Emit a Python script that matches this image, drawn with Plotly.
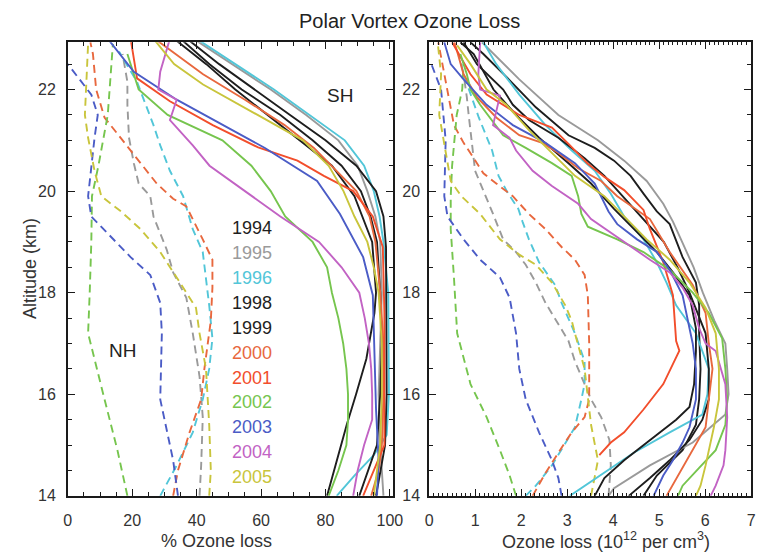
import plotly.graph_objects as go

W, H = 768, 557

years = ["1994", "1995", "1996", "1998", "1999", "2000", "2001", "2002", "2003", "2004", "2005"]
year_colors = ["#1e1e1e", "#9a9a9a", "#52c6d8", "#1e1e1e", "#1e1e1e", "#e8683e",
               "#f24e2c", "#76c54e", "#4b5cc6", "#c263c4", "#c9c53c"]
col = dict(zip(years, year_colors))

# ---------------- Left panel: % ozone loss ----------------
# Southern Hemisphere (solid)
pct_sh_1994_alt = [14, 14.7, 15.4, 16, 16.7, 17.6, 18, 19, 19.9, 20.5, 21, 21.5, 22, 22.5, 23]
pct_sh_1994 = [80.5, 83.5, 86.6, 89.5, 92.7, 95.2, 95.7, 94.5, 89, 82, 72, 62, 52, 43, 33]
pct_sh_1995_alt = [14, 15, 16, 17, 18, 19, 19.5, 20, 20.5, 21, 21.5, 22, 22.5, 23]
pct_sh_1995 = [98, 97, 96.5, 97, 97.5, 97, 95.5, 93, 90, 84, 74, 63, 51, 39]
pct_sh_1996_alt = [14, 14.4, 14.8, 15.2, 16, 17, 18, 19, 19.5, 20, 20.5, 21, 21.5, 22, 22.5, 23]
pct_sh_1996 = [83.5, 89, 95, 99, 99.7, 99.7, 99.5, 98, 96.8, 95, 92, 86, 75, 64, 52, 40]
pct_sh_1998_alt = [14, 15, 16, 17, 18, 18.9, 19.5, 20, 20.5, 21, 21.5, 22, 22.5, 23]
pct_sh_1998 = [95.7, 98.5, 99, 99, 99, 98.8, 98, 95.7, 89.6, 80, 69, 58, 47, 37]
pct_sh_1999_alt = [14, 15, 16, 17, 18, 19, 19.5, 20, 20.5, 21, 21.5, 22, 22.5, 23]
pct_sh_1999 = [90.5, 96, 97, 97.5, 97, 96, 94, 91, 85, 76, 66, 54, 44, 35]
pct_sh_2000_alt = [14, 14.5, 15, 16, 17, 18, 19, 19.5, 20, 20.4, 20.85, 21.3, 21.8, 22.3, 23]
pct_sh_2000 = [94.2, 96.5, 97.5, 98, 98, 97, 95.5, 93.7, 89.6, 83.5, 76.4, 67.3, 55, 42, 27]
pct_sh_2001_alt = [14, 14.5, 15, 16, 17, 17.6, 18.9, 19.5, 20.0, 20.3, 20.6, 20.86, 21.3, 21.77, 22.22, 23]
pct_sh_2001 = [91.7, 95, 98.3, 98.3, 98.3, 98.3, 97.8, 94.7, 88.6, 79.5, 71.3, 59.1, 45, 31.7, 21.5, 19.5]
pct_sh_2002_alt = [14, 14.5, 15, 15.5, 16, 16.5, 17, 17.5, 18, 18.5, 19, 19.5, 20, 20.5, 21, 21.5, 22, 22.5, 22.7]
pct_sh_2002 = [81, 84, 86.5, 87, 87, 86.5, 85.5, 84, 82, 80.5, 76, 67.5, 63, 57, 48, 31, 22, 19.5, 18.5]
pct_sh_2003_alt = [14, 14.7, 15.7, 17, 17.95, 18.7, 19.55, 20.2, 20.45, 20.85, 21.8, 22.35, 23]
pct_sh_2003 = [96, 96.5, 95.7, 95.2, 94.7, 91.7, 84.5, 77.4, 71.3, 61.2, 33.8, 20.5, 12.4]
pct_sh_2004_alt = [14, 14.5, 15, 15.5, 16, 16.5, 17, 17.5, 18, 18.5, 19, 19.5, 20, 20.5, 20.9, 21.4, 21.8, 22.0, 22.35, 23]
pct_sh_2004 = [88.6, 90, 92, 94.5, 94.5, 94.2, 93.5, 92.2, 90.5, 85, 78, 66, 55, 44, 38.8, 31.7, 33.8, 28.1, 28.7, 31.7]
pct_sh_2005_alt = [14, 15, 16, 17, 18, 18.5, 19, 19.5, 20, 20.5, 21, 21.5, 22.1, 22.5, 23]
pct_sh_2005 = [95, 97, 97.5, 97.5, 96.5, 95, 93, 89, 85.6, 81, 73, 59, 42, 33, 26.6]

# Northern Hemisphere (dashed)
pct_nh_1995_alt = [14, 14.6, 15.55, 16.35, 17.2, 17.9, 18.4, 18.85, 19.5, 19.9, 20.15, 20.55, 21.05, 21.7, 22.15, 22.7]
pct_nh_1995 = [40.9, 41.4, 41.9, 40.9, 38.8, 36.8, 32.7, 30.7, 26.6, 25.6, 22, 20.5, 19, 18.5, 18.5, 17]
pct_nh_1996_alt = [14, 14.6, 15.25, 15.9, 16.5, 17.1, 17.75, 18.3, 18.8, 19.25, 19.9, 20.4, 20.9, 21.3, 21.7, 22.15, 22.75]
pct_nh_1996 = [28.7, 33.8, 38.8, 41.9, 43.9, 44.9, 43.9, 42.9, 41.9, 38.8, 35.8, 31.7, 28.7, 26.6, 24.1, 21.5, 15.9]
pct_nh_2000_alt = [14, 14.5, 15.25, 15.9, 16.5, 17, 17.45, 18.1, 18.65, 19.05, 19.7, 19.85, 20.15, 20.55, 20.95, 21.45, 22.0, 22.7, 22.93]
pct_nh_2000 = [32.7, 34.2, 37.8, 41.4, 42.4, 43.4, 44.4, 44.9, 44.9, 41.9, 36.8, 32.7, 27.6, 22.6, 17.5, 11.4, 8.8, 7.8, 7]
pct_nh_2002_alt = [14, 14.9, 15.9, 17.2, 18, 19, 19.9, 20.5, 21.5, 22.35, 22.9]
pct_nh_2002 = [18.5, 15.4, 11.4, 6.3, 6.8, 7.3, 7.5, 9.5, 12.4, 13.4, 14]
pct_nh_2003_alt = [14, 14.7, 15.9, 17.2, 17.8, 18.35, 18.7, 19.1, 19.5, 19.9, 20.5, 21.05, 21.5, 21.9, 22.5]
pct_nh_2003 = [34.2, 32.7, 28.7, 29.2, 28.7, 25.6, 19.5, 13.4, 7.3, 6.3, 7.3, 8.3, 9.3, 7.3, 0]
pct_nh_2005_alt = [14, 14.5, 15.4, 16.5, 17.2, 17.7, 18.3, 18.8, 19.25, 19.6, 19.9, 20.4, 21.05, 21.5, 22.9]
pct_nh_2005 = [43.9, 44.4, 43.9, 42.9, 40.9, 39.8, 33.8, 28.7, 22.6, 16.5, 10.4, 8.3, 6.3, 5.3, 6.3]

# ---------------- Right panel: ozone loss (1e12 per cm3) ----------------
# Southern Hemisphere (solid)
abs_sh_1994_alt = [14, 14.4, 14.9, 15.4, 15.9, 16.5, 17.2, 17.75, 18.2, 18.7, 19.35, 19.6, 19.95, 20.3, 20.6, 20.85, 21.1, 21.65, 22.25, 22.7, 22.93]
abs_sh_1994 = [4.66, 4.95, 5.51, 5.8, 5.87, 5.9, 5.87, 5.87, 5.8, 5.51, 5.23, 4.95, 4.66, 4.38, 4.02, 3.6, 3.03, 2.32, 1.68, 1.18, 0.9]
abs_sh_1995_alt = [14, 14.15, 14.6, 15.05, 15.6, 16.0, 16.5, 17.0, 17.45, 18.0, 18.5, 19.0, 19.4, 19.75, 20.2, 20.6, 21.0, 21.5, 22.2, 22.93]
abs_sh_1995 = [3.9, 4.02, 4.8, 5.73, 6.44, 6.51, 6.48, 6.44, 6.2, 5.95, 5.75, 5.5, 5.3, 5.09, 4.73, 4.24, 3.67, 2.81, 1.96, 1.15]
abs_sh_1996_alt = [14, 14.45, 14.85, 15.25, 15.6, 16.0, 16.5, 17.2, 17.75, 18.2, 18.6, 19.05, 19.5, 19.95, 20.4, 20.8, 21.3, 21.9, 22.5, 22.93]
abs_sh_1996 = [3.06, 3.81, 4.45, 5.23, 5.94, 6.05, 6.08, 5.8, 5.37, 5.16, 4.95, 4.66, 4.24, 3.95, 3.6, 3.1, 2.53, 1.96, 1.46, 1.18]
abs_sh_1998_alt = [14, 14.35, 14.7, 15.1, 15.5, 15.9, 16.5, 17.2, 18.0, 18.5, 19.0, 19.5, 19.85, 20.3, 20.65, 21.05, 21.4, 21.7, 22.0, 22.5, 22.93]
abs_sh_1998 = [4.34, 4.8, 5.23, 5.66, 5.94, 6.08, 6.08, 6.01, 5.66, 5.4, 5.1, 4.6, 4.24, 3.81, 3.38, 2.81, 2.17, 1.82, 1.61, 1.04, 0.75]
abs_sh_1999_alt = [14, 14.35, 14.7, 15.1, 15.5, 15.75, 16.2, 16.85, 17.3, 17.95, 18.4, 18.8, 19.25, 19.65, 20.15, 20.55, 21.05, 21.5, 22.0, 22.7, 22.93]
abs_sh_1999 = [3.6, 3.81, 4.24, 4.8, 5.37, 5.66, 5.76, 5.8, 5.8, 5.66, 5.3, 4.95, 4.45, 4.02, 3.52, 3.03, 2.39, 1.89, 1.4, 0.97, 0.68]
abs_sh_2000_alt = [14, 14.45, 14.9, 15.35, 15.9, 16.5, 17.0, 17.6, 18.15, 18.8, 19.45, 19.9, 20.2, 20.45, 20.75, 20.95, 21.1, 21.45, 21.85, 22.3, 22.75, 22.93]
abs_sh_2000 = [5.16, 5.44, 5.73, 6.01, 6.08, 6.16, 6.08, 6.01, 5.73, 5.23, 4.8, 4.09, 3.74, 3.24, 2.81, 2.46, 1.96, 1.46, 1.04, 0.75, 0.61, 0.55]
abs_sh_2001_alt = [14.8, 15.05, 15.25, 15.7, 16.2, 16.86, 17.05, 17.95, 18.6, 19.25, 19.63, 20.02, 20.28, 20.54, 20.93, 21.25, 21.5, 21.7, 21.9, 22.3, 22.93]
abs_sh_2001 = [3.7, 3.95, 4.24, 4.66, 5.09, 5.44, 5.37, 5.3, 5.09, 4.8, 4.66, 4.24, 3.81, 3.45, 3.03, 2.67, 1.96, 1.61, 1.25, 0.9, 0.5]
abs_sh_2002_alt = [14, 14.2, 14.55, 14.9, 15.4, 15.9, 16.5, 17.1, 17.6, 18.0, 18.45, 18.8, 19.05, 19.3, 19.55, 19.9, 20.3, 20.55, 20.85, 21.1, 21.7, 22.0, 22.3, 22.7]
abs_sh_2002 = [5.41, 5.51, 5.87, 6.23, 6.44, 6.48, 6.44, 6.37, 6.08, 5.73, 5.23, 4.66, 4.09, 3.45, 3.31, 3.24, 3.1, 2.67, 2.1, 1.61, 1.11, 0.9, 0.82, 0.68]
abs_sh_2003_alt = [14, 14.4, 14.7, 15.05, 15.35, 15.9, 16.5, 17.0, 17.3, 17.95, 18.45, 18.8, 19.05, 19.35, 19.6, 20.15, 20.55, 20.95, 21.3, 21.7, 22.2, 22.5, 22.93]
abs_sh_2003 = [4.88, 5.09, 5.3, 5.51, 5.66, 5.8, 5.8, 5.73, 5.66, 5.51, 5.23, 4.95, 4.52, 4.09, 3.9, 3.6, 3.17, 2.53, 1.82, 1.25, 0.75, 0.47, 0.33]
abs_sh_2004_alt = [14, 14.2, 14.6, 14.9, 15.55, 16.2, 16.85, 17.0, 17.3, 17.75, 18.1, 18.4, 18.65, 19.0, 19.45, 19.75, 20.1, 20.4, 20.8, 21.05, 21.3, 21.88, 22.0, 22.3, 22.93]
abs_sh_2004 = [6.12, 6.23, 6.4, 6.44, 6.48, 6.44, 6.23, 6.01, 5.87, 5.73, 5.51, 5.23, 4.8, 4.24, 3.52, 3.24, 2.67, 2.25, 1.89, 1.75, 1.39, 1.54, 1.11, 1.07, 1.11]
abs_sh_2005_alt = [14, 14.2, 14.6, 14.9, 15.35, 15.9, 16.5, 17.2, 17.7, 18.2, 18.65, 19.05, 19.5, 19.9, 20.3, 20.75, 21.2, 21.7, 22.0, 22.5, 22.87]
abs_sh_2005 = [5.8, 5.9, 6.01, 6.08, 6.19, 6.3, 6.3, 6.23, 6.01, 5.66, 5.23, 4.73, 4.24, 3.81, 3.17, 2.67, 2.17, 1.68, 1.25, 0.9, 0.61]

# Northern Hemisphere (dashed)
abs_nh_1995_alt = [14, 14.6, 15.1, 15.55, 15.9, 16.2, 16.65, 17.05, 17.5, 17.8, 18.2, 18.55, 18.8, 19.05, 19.55, 20.0, 20.4, 21.5, 21.85, 22.3]
abs_nh_1995 = [3.9, 3.95, 3.92, 3.74, 3.52, 3.38, 3.17, 3.03, 2.74, 2.53, 2.32, 2.1, 1.89, 1.61, 1.39, 1.18, 1.0, 0.86, 0.82, 0.75]
abs_nh_1996_alt = [14, 14.2, 14.6, 15.05, 15.35, 15.9, 16.2, 16.65, 17.2, 17.8, 18.15, 18.6, 19.05, 19.4, 19.65, 19.95, 20.3, 20.8, 21.45, 22.3, 22.7]
abs_nh_1996 = [2.1, 2.32, 2.67, 2.96, 3.17, 3.31, 3.38, 3.38, 3.17, 2.88, 2.74, 2.39, 2.17, 2.03, 1.94, 1.72, 1.51, 1.37, 1.08, 0.75, 0.65]
abs_nh_2000_alt = [14, 14.45, 14.85, 15.25, 15.55, 15.9, 17.0, 17.95, 18.35, 18.65, 18.9, 19.25, 19.55, 19.9, 20.15, 20.35, 20.65, 20.95, 21.3, 22.7, 22.93]
abs_nh_2000 = [2.25, 2.53, 2.81, 3.1, 3.38, 3.48, 3.48, 3.45, 3.38, 3.17, 2.88, 2.53, 2.17, 1.82, 1.46, 1.18, 0.97, 0.75, 0.54, 0.26, 0.2]
abs_nh_2002_alt = [14, 14.4, 14.9, 15.55, 16.2, 17.2, 18.3, 19.25, 19.9, 20.5, 21, 21.5, 22, 22.5]
abs_nh_2002 = [1.89, 1.75, 1.54, 1.25, 0.9, 0.61, 0.54, 0.47, 0.47, 0.5, 0.55, 0.6, 0.72, 0.75]
abs_nh_2003_alt = [14, 14.35, 14.7, 15.25, 15.9, 16.5, 17.2, 17.9, 18.3, 18.65, 19.05, 19.5, 19.9, 21.0, 22.0, 22.5]
abs_nh_2003 = [2.88, 2.81, 2.67, 2.39, 2.1, 1.96, 1.89, 1.75, 1.54, 1.11, 0.75, 0.4, 0.33, 0.36, 0.26, 0.05]
abs_nh_2005_alt = [14, 14.7, 15.4, 15.9, 16.5, 17.2, 17.45, 17.75, 18.2, 18.55, 18.75, 19.05, 19.55, 19.9, 20.2, 21.5, 22.3, 22.9]
abs_nh_2005 = [3.52, 3.67, 3.52, 3.45, 3.38, 3.17, 3.1, 2.96, 2.67, 2.32, 1.96, 1.54, 1.11, 0.7, 0.47, 0.22, 0.26, 0.19]

x_ticks_pct = [0, 20, 40, 60, 80, 100]
x_ticks_abs = [0, 1, 2, 3, 4, 5, 6, 7]
y_ticks = [14, 16, 18, 20, 22]

ns = globals()
fig = go.Figure()


def add(prefix, year, axes, dash):
    alt = ns[f"{prefix}_{year}_alt"]
    val = ns[f"{prefix}_{year}"]
    fig.add_trace(go.Scatter(
        x=val, y=alt, mode="lines", xaxis=axes[0], yaxis=axes[1],
        line=dict(color=col[year], width=1.9, dash=dash), hoverinfo="skip"))


nh_years = ["1995", "1996", "2000", "2002", "2003", "2005"]
for y in nh_years:
    add("pct_nh", y, ("x", "y"), "8px,5px")
    add("abs_nh", y, ("x2", "y2"), "8px,5px")
for y in years:
    add("pct_sh", y, ("x", "y"), "solid")
    add("abs_sh", y, ("x2", "y2"), "solid")


def px(x):
    return x / W


def py(y):
    return 1 - y / H


ydom = [py(504), py(43)]
common = dict(showline=True, linecolor="#1a1a1a", linewidth=1.6, mirror="ticks",
              ticks="inside", tickcolor="#1a1a1a", tickwidth=1.3, ticklen=7,
              showgrid=False, zeroline=False,
              tickfont=dict(size=16, color="#333333"))
minor_style = dict(ticks="inside", tickcolor="#1a1a1a", tickwidth=1.1, showgrid=False)

fig.update_layout(
    width=W, height=H, margin=dict(l=0, r=0, t=0, b=0),
    paper_bgcolor="white", plot_bgcolor="white", showlegend=False,
    font=dict(family="Liberation Sans, Arial, sans-serif", color="#333333"),
    xaxis=dict(domain=[px(65), px(396)], range=[0, 100.9], anchor="y",
               tickvals=x_ticks_pct, ticklabelstandoff=9,
               minor=dict(dtick=5, ticklen=4, **minor_style), **common),
    yaxis=dict(domain=ydom, range=[14, 22.93], anchor="x",
               tickvals=y_ticks, ticklabelstandoff=7,
               minor=dict(dtick=0.5, ticklen=4, **minor_style), **common),
    xaxis2=dict(domain=[px(433), px(761)], range=[0, 7], anchor="y2",
                tickvals=x_ticks_abs, ticklabelstandoff=9,
                minor=dict(dtick=0.1, ticklen=3, **minor_style), **common),
    yaxis2=dict(domain=ydom, range=[14, 22.93], anchor="x2",
                tickvals=y_ticks, ticklabelstandoff=4,
                minor=dict(dtick=0.5, ticklen=4, **minor_style), **common),
)

ann = []
ann.append(dict(text="Polar Vortex Ozone Loss", x=px(413), y=py(21), xref="paper", yref="paper",
                showarrow=False, font=dict(size=20, color="#222222"), xanchor="center", yanchor="middle"))
ann.append(dict(text="% Ozone loss", x=px(216), y=py(550), xref="paper", yref="paper",
                showarrow=False, font=dict(size=18, color="#333333"), xanchor="center", yanchor="middle"))
ann.append(dict(text="Ozone loss (10<sup>12</sup> per cm<sup>3</sup>)", x=px(613), y=py(549),
                xref="paper", yref="paper", showarrow=False,
                font=dict(size=18, color="#333333"), xanchor="center", yanchor="middle"))
ann.append(dict(text="Altitude (km)", x=px(26), y=py(273), xref="paper", yref="paper",
                showarrow=False, textangle=-90, font=dict(size=18, color="#333333"),
                xanchor="center", yanchor="middle"))
ann.append(dict(text="SH", x=px(342), y=py(97), xref="paper", yref="paper", showarrow=False,
                font=dict(size=19, color="#222222"), xanchor="center", yanchor="middle"))
ann.append(dict(text="NH", x=px(121), y=py(356), xref="paper", yref="paper", showarrow=False,
                font=dict(size=19, color="#222222"), xanchor="center", yanchor="middle"))
for i, yr in enumerate(years):
    ann.append(dict(text=yr, x=px(253), y=py(232 + i * 25.3), xref="paper", yref="paper",
                    showarrow=False, font=dict(size=18, color=col[yr]),
                    xanchor="center", yanchor="middle"))
fig.update_layout(annotations=ann)

fig.write_html("out.html")
